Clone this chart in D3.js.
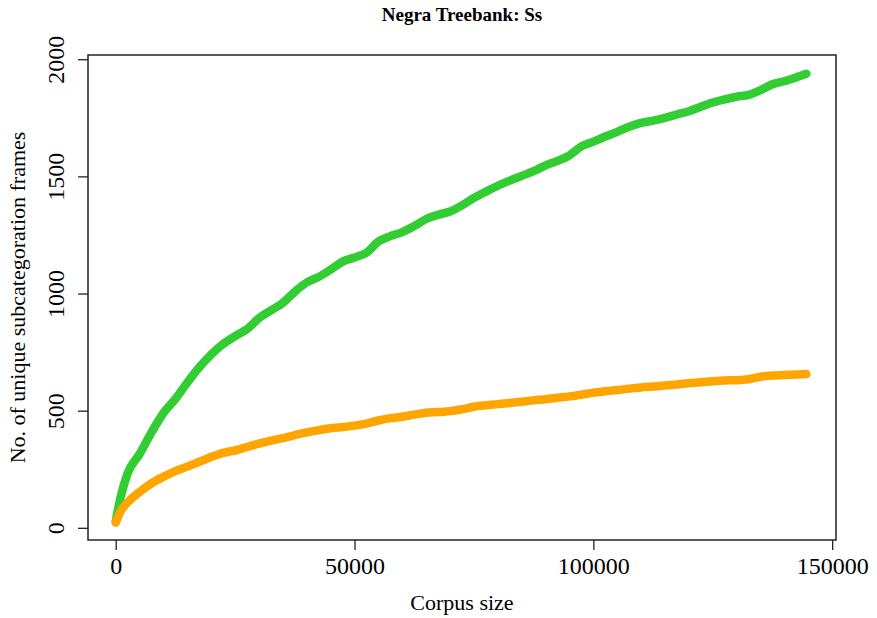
<!DOCTYPE html>
<html>
<head>
<meta charset="utf-8">
<script src="https://cdn.jsdelivr.net/npm/d3@7"></script>
<style>
  html, body { margin: 0; padding: 0; background: #fff; }
  svg { display: block; }
  text { font-family: "Liberation Serif", "Times New Roman", serif; fill: #000; }
</style>
</head>
<body>
<svg id="chart" width="877" height="618"></svg>
<script>
// Corpus sizes at which the number of unique frames was counted
const corpusSize = [0, 1000, 2500, 5000, 7500, 10000, 12500, 15000, 17500, 20000,
  22500, 25000, 27500, 30000, 32500, 35000, 37500, 40000, 42500, 45000,
  47500, 50000, 52500, 55000, 57500, 60000, 62500, 65000, 67500, 70000,
  72500, 75000, 77500, 80000, 82500, 85000, 87500, 90000, 92500, 95000,
  97500, 100000, 102500, 105000, 107500, 110000, 112500, 115000, 117500, 120000,
  122500, 125000, 127500, 130000, 132500, 135000, 137500, 140000, 142500, 144600];

// Upper curve (green)
const greenFrames = [27, 128, 233, 315, 407, 490, 550, 620, 685, 740,
  785, 818, 848, 895, 928, 960, 1008, 1047, 1071, 1102,
  1136, 1154, 1174, 1222, 1245, 1262, 1288, 1318, 1336, 1350,
  1376, 1408, 1435, 1460, 1482, 1502, 1522, 1547, 1566, 1590,
  1628, 1648, 1670, 1690, 1712, 1728, 1738, 1750, 1764, 1778,
  1797, 1815, 1829, 1840, 1848, 1868, 1893, 1906, 1923, 1938];

// Lower curve (orange)
const orangeFrames = [22, 70, 108, 153, 190, 218, 242, 261, 282, 302,
  320, 330, 345, 359, 372, 383, 396, 407, 417, 425,
  430, 436, 445, 458, 468, 474, 483, 491, 494, 498,
  506, 517, 523, 528, 533, 538, 544, 549, 555, 561,
  568, 577, 583, 588, 594, 599, 603, 607, 612, 617,
  621, 626, 629, 630, 634, 645, 650, 652, 654, 656];

const xTicks = [0, 50000, 100000, 150000];
const yTicks = [0, 500, 1000, 1500, 2000];

const titleText = "Negra Treebank: Ss";
const xTitle = "Corpus size";
const yTitle = "No. of unique subcategoration frames";

const svg = d3.select("#chart");
const box = { left: 88, right: 836, top: 55, bottom: 540 };

const x = d3.scaleLinear().domain([-5800, 150800]).range([box.left, box.right]);
const y = d3.scaleLinear().domain([-52, 2018]).range([box.bottom, box.top]);

// Series
const series = [
  { values: greenFrames, color: "#32cd32" },
  { values: orangeFrames, color: "#ffa500" }
];
const line = d3.line()
  .x((d, i) => x(corpusSize[i]))
  .y(d => y(d))
  .curve(d3.curveMonotoneX);

const plot = svg.append("g");
series.forEach(s => {
  plot.append("path")
    .datum(s.values)
    .attr("fill", "none")
    .attr("stroke", s.color)
    .attr("stroke-width", 8.5)
    .attr("stroke-linecap", "round")
    .attr("stroke-linejoin", "round")
    .attr("d", line);
});

// Axes
const xAxis = d3.axisBottom(x).tickValues(xTicks).tickSize(10).tickPadding(6)
  .tickFormat(d3.format("d"));
const gx = svg.append("g")
  .attr("transform", `translate(0,${box.bottom})`)
  .call(xAxis);
gx.select(".domain").remove();
gx.selectAll(".tick line").attr("stroke", "#222").attr("stroke-width", 1.3);
gx.selectAll(".tick text")
  .attr("font-size", 24).attr("font-family", "Liberation Serif, serif")
  .attr("fill", "#000").attr("dy", "0.75em");

const yAxis = d3.axisLeft(y).tickValues(yTicks).tickSize(10).tickFormat(d3.format("d"));
const gy = svg.append("g")
  .attr("transform", `translate(${box.left},0)`)
  .call(yAxis);
gy.select(".domain").remove();
gy.selectAll(".tick line").attr("stroke", "#222").attr("stroke-width", 1.3);
gy.selectAll(".tick text")
  .attr("font-size", 24).attr("font-family", "Liberation Serif, serif")
  .attr("fill", "#000")
  .attr("x", null).attr("dy", null)
  .attr("text-anchor", "middle")
  .attr("transform", "translate(-24,0) rotate(-90)");

// Plot frame
svg.append("rect")
  .attr("x", box.left).attr("y", box.top)
  .attr("width", box.right - box.left).attr("height", box.bottom - box.top)
  .attr("fill", "none").attr("stroke", "#222").attr("stroke-width", 1.5);

// Titles
const cx = (box.left + box.right) / 2;
svg.append("text")
  .attr("x", cx).attr("y", 21)
  .attr("text-anchor", "middle")
  .attr("font-size", 19).attr("font-weight", "bold")
  .text(titleText);

svg.append("text")
  .attr("x", cx).attr("y", 610)
  .attr("text-anchor", "middle")
  .attr("font-size", 22)
  .text(xTitle);

svg.append("text")
  .attr("transform", `translate(25,${(box.top + box.bottom) / 2}) rotate(-90)`)
  .attr("text-anchor", "middle")
  .attr("font-size", 22)
  .text(yTitle);
</script>
</body>
</html>
